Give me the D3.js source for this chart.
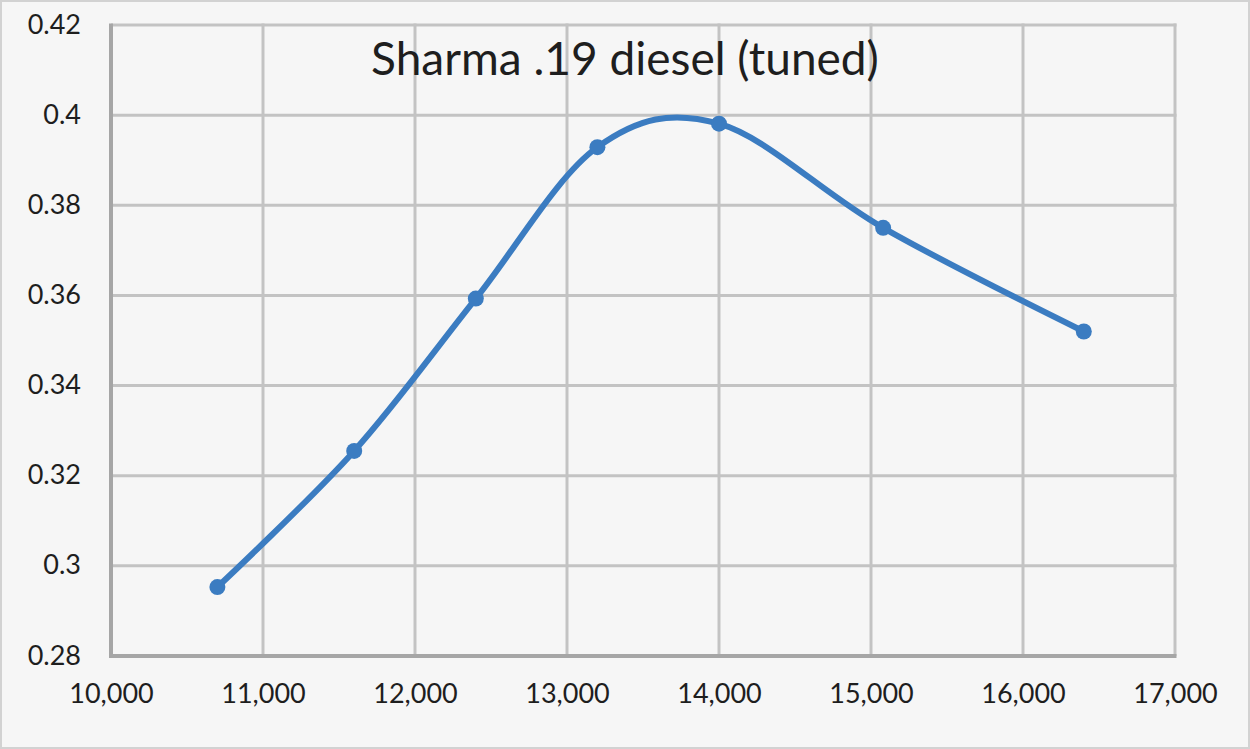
<!DOCTYPE html>
<html>
<head>
<meta charset="utf-8">
<script src="https://cdn.jsdelivr.net/npm/d3@7"></script>
<style>
  html, body { margin: 0; padding: 0; background: #f6f6f6; }
  svg { display: block; }
</style>
</head>
<body>
<script>
const titleText = "Sharma .19 diesel (tuned)";
const rpm = [10700, 11600, 12400, 13200, 14000, 15080, 16400];
const values = [0.2953, 0.3255, 0.3593, 0.3929, 0.3981, 0.3750, 0.3520];
const xTicks = [10000, 11000, 12000, 13000, 14000, 15000, 16000, 17000];
const yTicks = [0.28, 0.30, 0.32, 0.34, 0.36, 0.38, 0.40, 0.42];

const W = 1250, H = 749;
const m = { left: 111, right: 75, top: 25, bottom: 93 };
const FONT = "Lato, 'Open Sans', sans-serif";

const svg = d3.select("body").append("svg").attr("width", W).attr("height", H);
svg.append("rect").attr("x", 1).attr("y", 1).attr("width", W - 2).attr("height", H - 2)
  .attr("fill", "#f6f6f6").attr("stroke", "#d2d2d2").attr("stroke-width", 2);

const x = d3.scaleLinear().domain([10000, 17000]).range([m.left, W - m.right]);
const y = d3.scaleLinear().domain([0.28, 0.42]).range([H - m.bottom, m.top]);

// gridlines
svg.append("g").selectAll("line").data(xTicks.slice(1)).join("line")
  .attr("x1", d => x(d)).attr("x2", d => x(d))
  .attr("y1", y(0.42) - 1.5).attr("y2", y(0.28))
  .attr("stroke", "#c3c3c3").attr("stroke-width", 3);
svg.append("g").selectAll("line").data(yTicks.slice(1)).join("line")
  .attr("x1", x(10000)).attr("x2", x(17000) + 1.5)
  .attr("y1", d => y(d)).attr("y2", d => y(d))
  .attr("stroke", "#c3c3c3").attr("stroke-width", 3);

// axes lines
svg.append("line").attr("x1", x(10000)).attr("x2", x(10000))
  .attr("y1", y(0.42) - 1.5).attr("y2", y(0.28) + 2)
  .attr("stroke", "#a6a6a6").attr("stroke-width", 4);
svg.append("line").attr("x1", x(10000) - 2).attr("x2", x(17000) + 1.5)
  .attr("y1", y(0.28)).attr("y2", y(0.28))
  .attr("stroke", "#a6a6a6").attr("stroke-width", 4);

// tick labels via d3 axes
const fmtX = d3.format(",");
const xAxis = d3.axisBottom(x).tickValues(xTicks).tickFormat(fmtX).tickSize(0).tickPadding(28);
const gx = svg.append("g").attr("transform", `translate(0,${y(0.28)})`).call(xAxis);
gx.select(".domain").remove();
gx.selectAll("text").attr("font-family", FONT).attr("font-size", 27).attr("fill", "#1e1e1e");

const yAxis = d3.axisLeft(y).tickValues(yTicks).tickFormat(d => String(+d.toFixed(2))).tickSize(0).tickPadding(30);
const gy = svg.append("g").attr("transform", `translate(${x(10000)},0)`).call(yAxis);
gy.select(".domain").remove();
gy.selectAll("text").attr("font-family", FONT).attr("font-size", 27).attr("fill", "#1e1e1e").attr("dy", "0.3em");

// title
svg.append("text").attr("x", 625).attr("y", 75).attr("text-anchor", "middle")
  .attr("font-family", FONT).attr("font-size", 46).attr("fill", "#1e1e1e")
  .text(titleText);

// line
const data = rpm.map((r, i) => ({ r, v: values[i] }));
const line = d3.line().x(d => x(d.r)).y(d => y(d.v)).curve(d3.curveCardinal.tension(0));
svg.append("path").datum(data).attr("d", line)
  .attr("fill", "none").attr("stroke", "#3b7cc1").attr("stroke-width", 6)
  .attr("stroke-linejoin", "round").attr("stroke-linecap", "round");

svg.append("g").selectAll("circle").data(data).join("circle")
  .attr("cx", d => x(d.r)).attr("cy", d => y(d.v)).attr("r", 8)
  .attr("fill", "#3b7cc1");
</script>
</body>
</html>
